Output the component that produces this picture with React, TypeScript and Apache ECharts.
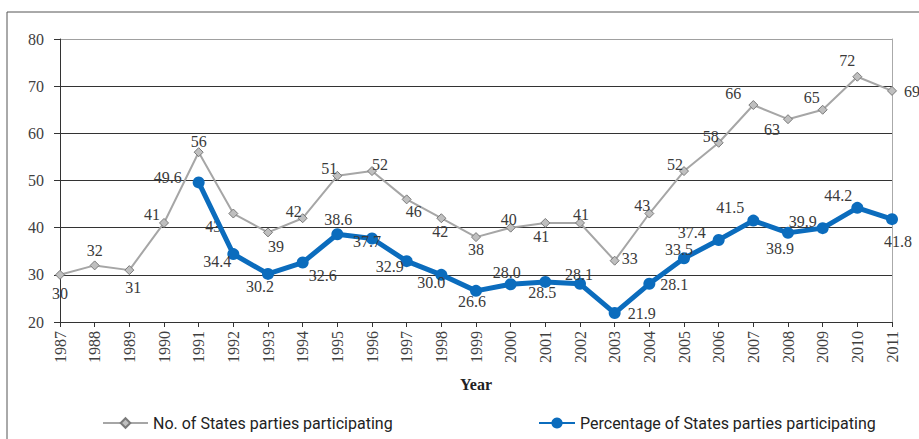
import React, { useEffect, useRef } from "react";
import * as echarts from "echarts";

const years = ["1987","1988","1989","1990","1991","1992","1993","1994","1995","1996","1997","1998","1999","2000","2001","2002","2003","2004","2005","2006","2007","2008","2009","2010","2011"];
const statesCount = [30,32,31,41,56,43,39,42,51,52,46,42,38,40,41,41,33,43,52,58,66,63,65,72,69];
const statesPct: (number | null)[] = [null,null,null,null,49.6,34.4,30.2,32.6,38.6,37.7,32.9,30.0,26.6,28.0,28.5,28.1,21.9,28.1,33.5,37.4,41.5,38.9,39.9,44.2,41.8];
const yTicks = [20, 80, 10];

// label offsets (style only)
const countLabelOffsets: [number, number][] = [
  [0,19],[0,-15],[4,17],[-12,-8],[0,-11],[-20,13],[8,14],[-9,-7],[-8,-7],[8,-7],[7,12],[-1,13],[0,12],[-2,-8],[-4,14],[1,-8],[15,-2],[-7,-8],[-9,-7],[-8,-6],[-20,-12],[-16,10],[-11,-12],[-10,-16],[20,1],
];
const pctLabelOffsets: [number, number][] = [
  [0,0],[0,0],[0,0],[0,0],[-31,-5],[-16,7],[-8,13],[20,13],[1,-15],[-5,3],[-17,5],[-10,8],[-4,11],[-4,-12],[-3,11],[-1,-9],[27,0],[25,1],[-5,-9],[-27,-7],[-23,-13],[-8,16],[-20,-7],[-19,-12],[6,22],
];

const serif = "'Liberation Serif', 'Times New Roman', serif";
const narrow = "Roboto, 'Liberation Sans', sans-serif";
const NAME1 = "No. of States parties participating";
const NAME2 = "Percentage of States parties participating";

export default function App() {
  const ref = useRef<HTMLDivElement>(null);
  useEffect(() => {
    if (!ref.current) return;
    const chart = echarts.init(ref.current, undefined, { renderer: "svg" });
    const labelStyle = { fontFamily: serif, fontSize: 16, color: "#3a3a3a" };
    chart.setOption({
      animation: false,
      backgroundColor: "#ffffff",
      graphic: [
        {
          type: "rect",
          shape: { x: 7, y: 12, width: 1000, height: 600 },
          style: { fill: "none", stroke: "#555", lineWidth: 1 },
          silent: true,
        },
      ],
      grid: { left: 60, top: 39, right: 27, bottom: 117, containLabel: false },
      legend: [
        {
          data: [NAME1],
          left: 102,
          top: 415,
          padding: 0,
          itemWidth: 45,
          itemHeight: 12,
          textStyle: { fontFamily: narrow, fontSize: 16, color: "#222" },
        },
        {
          data: [NAME2],
          left: 538,
          top: 415,
          padding: 0,
          itemWidth: 36,
          itemHeight: 14,
          textStyle: { fontFamily: narrow, fontSize: 16, color: "#222" },
        },
      ],
      xAxis: {
        type: "category",
        data: years,
        boundaryGap: false,
        name: "Year",
        nameLocation: "middle",
        nameGap: 54,
        nameTextStyle: { fontFamily: serif, fontSize: 16, fontWeight: "bold", color: "#222" },
        axisLine: { lineStyle: { color: "#333", width: 1 } },
        axisTick: { show: true, length: 5, alignWithLabel: true, lineStyle: { color: "#333" } },
        axisLabel: { rotate: 90, margin: 9, fontFamily: serif, fontSize: 16, color: "#404040", interval: 0 },
        splitLine: { show: false },
      },
      yAxis: [
        {
          type: "value",
          min: yTicks[0],
          max: yTicks[1],
          interval: yTicks[2],
          axisLine: { show: true, lineStyle: { color: "#333" } },
          axisTick: { show: true, length: 6, lineStyle: { color: "#333" } },
          axisLabel: { margin: 16, fontFamily: serif, fontSize: 16, color: "#404040" },
          splitLine: {
            show: true,
            lineStyle: { color: ["#333", "#333", "#333", "#333", "#333", "#333", "#a0a0a0"], width: 1 },
          },
        },
        {
          type: "value",
          position: "right",
          min: yTicks[0],
          max: yTicks[1],
          interval: yTicks[2],
          axisLine: { show: true, lineStyle: { color: "#aaa" } },
          axisTick: { show: false },
          axisLabel: { show: false },
          splitLine: { show: false },
        },
      ],
      series: [
        {
          name: NAME1,
          type: "line",
          yAxisIndex: 0,
          data: statesCount.map((v, i) => ({
            value: v,
            label: { offset: countLabelOffsets[i] },
          })),
          symbol: "diamond",
          symbolSize: 9,
          lineStyle: { color: "#a6a6a6", width: 2 },
          itemStyle: { color: "#bfbfbf", borderColor: "#7a7a7a", borderWidth: 1 },
          label: { show: true, position: "inside", ...labelStyle },
          z: 2,
        },
        {
          name: NAME2,
          type: "line",
          yAxisIndex: 0,
          data: statesPct.map((v, i) => ({
            value: v === null ? "-" : v,
            label: { offset: pctLabelOffsets[i], formatter: (p: any) => Number(p.value).toFixed(1) },
          })),
          symbol: "circle",
          symbolSize: 12,
          lineStyle: { color: "#0b6cbd", width: 5 },
          itemStyle: { color: "#0b6cbd" },
          label: { show: true, position: "inside", ...labelStyle },
          z: 3,
        },
      ],
    });
    return () => chart.dispose();
  }, []);
  return <div ref={ref} style={{ width: 919, height: 439, position: "absolute", left: 0, top: 0 }} />;
}
